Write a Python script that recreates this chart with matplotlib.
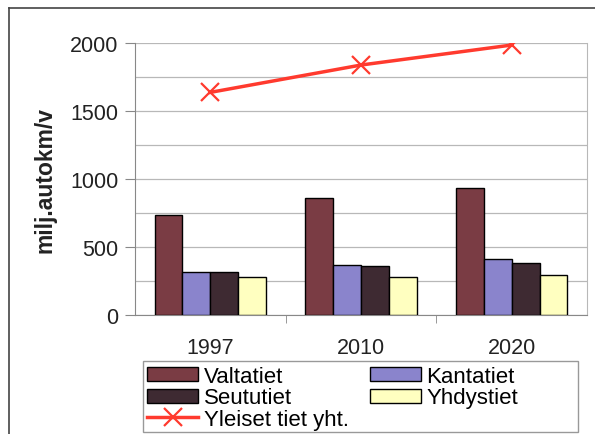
import matplotlib.pyplot as plt
import numpy as np
from matplotlib.patches import Rectangle
from matplotlib.lines import Line2D

plt.rcParams['font.family'] = ['Liberation Sans', 'DejaVu Sans']

years = ['1997', '2010', '2020']
valtatiet = [737, 860, 934]
kantatiet = [314, 368, 410]
seututiet = [318, 358, 385]
yhdystiet = [282, 282, 294]
yhteensa = [1637, 1838, 1985]

names = ['Valtatiet', 'Kantatiet', 'Seututiet', 'Yhdystiet']
colors = ['#7a3c44', '#8a84cc', '#3e2a32', '#ffffc0']

W, H = 595, 435
fig = plt.figure(figsize=(W / 100, H / 100), dpi=100)
ax = fig.add_axes([135 / W, 1 - 316 / H, 452 / W, 272 / H])

# outer chart border (left and top edges only show)
fig.lines.append(Line2D([9 / W, 9 / W], [0, 1 - 9 / H], transform=fig.transFigure,
                        color='#444444', linewidth=1.2))
fig.lines.append(Line2D([9 / W, 1], [1 - 9 / H, 1 - 9 / H], transform=fig.transFigure,
                        color='#444444', linewidth=1.2))

x = np.arange(len(years))
w = 0.185
bars = []
for i, (vals, c) in enumerate(zip([valtatiet, kantatiet, seututiet, yhdystiet], colors)):
    b = ax.bar(x + (i - 1.5) * w, vals, w, color=c, edgecolor='black',
               linewidth=1.0, label=names[i], zorder=3)
    bars.append(b)

line, = ax.plot(x, yhteensa, color='#ff3a2e', linewidth=2.5, marker='x',
                markersize=13, markeredgewidth=1.6, label='Yleiset tiet yht.',
                zorder=4)

ax.set_xlim(-0.5, 2.5)
ax.set_ylim(0, 2000)
ax.set_yticks([0, 500, 1000, 1500, 2000])
ax.set_yticks(np.arange(250, 2000, 500), minor=True)
ax.grid(True, which='both', axis='y', color='#b8b8b8', linewidth=0.9, zorder=0)
ax.tick_params(axis='y', which='minor', length=0)
ax.tick_params(axis='y', which='major', length=7, color='#888888',
               labelsize=15.5, labelcolor='#222222', pad=5)

ax.set_xticks(x)
ax.set_xticklabels(years)
ax.set_xticks([0.5, 1.5], minor=True)
ax.tick_params(axis='x', which='major', length=0, labelsize=15.5,
               labelcolor='#222222', pad=16)
ax.tick_params(axis='x', which='minor', length=6, color='#888888')

for side in ['left', 'bottom']:
    ax.spines[side].set_color('#888888')
ax.spines['right'].set_color('#b8b8b8')
ax.spines['top'].set_visible(False)

ax.set_ylabel('milj.autokm/v', fontsize=16.5, fontweight='bold',
              color='#222222', labelpad=10)

# legend frame drawn separately so the columns stay packed to the left
fig.patches.append(Rectangle((143 / W, 1 - 433 / H), 435 / W, 71 / H,
                             transform=fig.transFigure, facecolor='white',
                             edgecolor='#999999', linewidth=1.0, zorder=5))

handles = [bars[0], bars[2], line, bars[1], bars[3]]
labels = ['Valtatiet', 'Seututiet', 'Yleiset tiet yht.', 'Kantatiet', 'Yhdystiet']
leg = fig.legend(handles, labels, loc='upper left',
                 bbox_to_anchor=(147 / W, 1 - 367 / H),
                 ncol=2, fontsize=16, frameon=False,
                 handlelength=2.3, handleheight=0.6,
                 handletextpad=0.25, labelspacing=0.02, borderpad=0.0,
                 borderaxespad=0.0, columnspacing=0.95)
leg.set_zorder(6)

fig.savefig('out.png', dpi=100)
